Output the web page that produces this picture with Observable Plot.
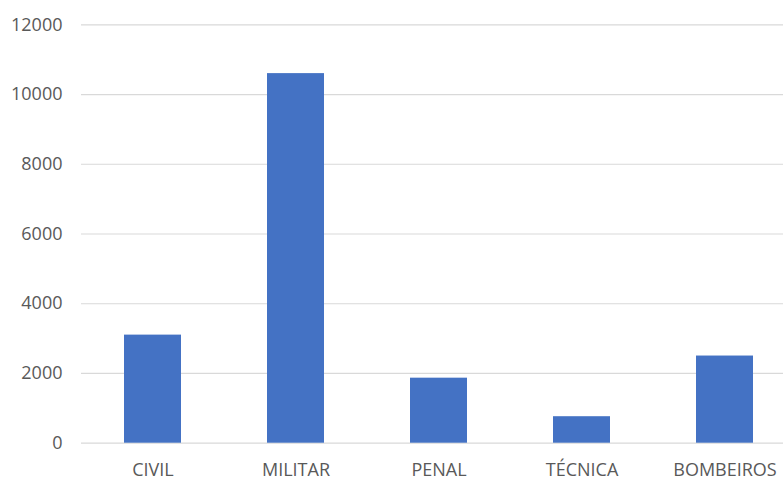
<!DOCTYPE html>
<html>
<head>
<meta charset="utf-8">
<script src="https://cdn.jsdelivr.net/npm/d3@7"></script>
<script src="https://cdn.jsdelivr.net/npm/@observablehq/plot@0.6"></script>
<style>
  html, body { margin: 0; padding: 0; background: #fff; overflow: hidden; }
  #chart svg { display: block; overflow: visible; }
</style>
</head>
<body>
<div id="chart"></div>
<script>
const categories = ["CIVIL", "MILITAR", "PENAL", "TÉCNICA", "BOMBEIROS"];
const values = [3100, 10600, 1865, 760, 2500];
const yTicks = [0, 2000, 4000, 6000, 8000, 10000, 12000];

const data = categories.map((c, i) => ({category: c, value: values[i]}));

const chart = Plot.plot({
  width: 783,
  height: 477,
  marginTop: 24.3,
  marginBottom: 34.3,
  marginLeft: 81,
  marginRight: -13.5,
  style: {fontFamily: "'Open Sans', sans-serif", fontSize: "18px", color: "#595959", background: "#fff"},
  x: {domain: categories, paddingInner: 0.6, paddingOuter: 0.3, label: null},
  y: {domain: [0, 12000], label: null},
  marks: [
    Plot.ruleY(yTicks, {stroke: "#d9d9d9", strokeWidth: 1.2}),
    Plot.barY(data, {x: "category", y: "value", fill: "#4472C4"}),
    Plot.axisY(yTicks, {tickSize: 0, tickPadding: 19, fontSize: 18, fill: "#595959", tickFormat: d => String(d), label: null}),
    Plot.axisX({tickSize: 0, tickPadding: 20.5, fontSize: 18, fill: "#595959", label: null})
  ]
});
document.getElementById("chart").appendChild(chart);
</script>
</body>
</html>
